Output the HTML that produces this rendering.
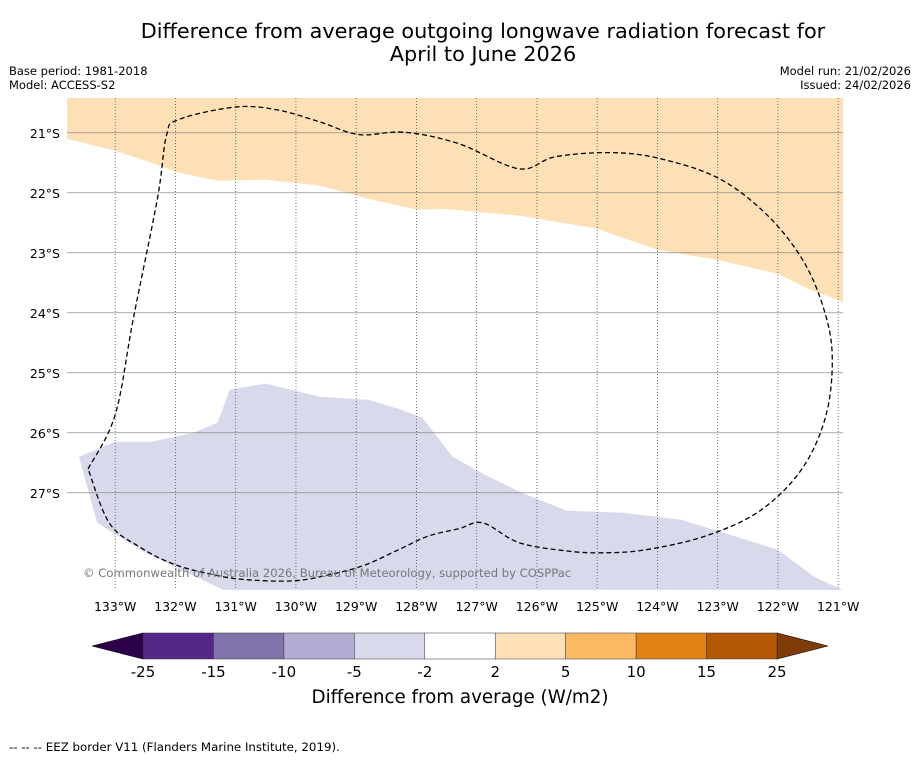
<!DOCTYPE html>
<html><head><meta charset="utf-8"><style>
body{margin:0;background:#fff;font-family:"DejaVu Sans","Liberation Sans",sans-serif;}
svg text{font-family:"DejaVu Sans","Liberation Sans",sans-serif;}
</style></head><body>
<svg id="c" width="919" height="758" viewBox="0 0 919 758">
<text x="483" y="38" text-anchor="middle" font-size="20.8">Difference from average outgoing longwave radiation forecast for</text>
<text x="483" y="61" text-anchor="middle" font-size="20.8">April to June 2026</text>
<text x="9" y="75" font-size="11.5">Base period: 1981-2018</text>
<text x="9" y="89" font-size="11.5">Model: ACCESS-S2</text>
<text x="911" y="75" font-size="11.5" text-anchor="end">Model run: 21/02/2026</text>
<text x="911" y="89" font-size="11.5" text-anchor="end">Issued: 24/02/2026</text>
<g id="map"></g>
<g id="cbar"></g>
<text x="460" y="703" text-anchor="middle" font-size="18.3">Difference from average (W/m2)</text>
<text x="9" y="751" font-size="11.8">--  --  -- EEZ border V11 (Flanders Marine Institute, 2019).</text>
</svg>
<script>
const lonTicks=[133,132,131,130,129,128,127,126,125,124,123,122,121];
const latTicks=[21,22,23,24,25,26,27];
const posRegion=[[133.8,20.42],[133.8,21.1],[133,21.3],[132.4,21.5],[132,21.65],[131.3,21.8],[130.5,21.78],[129.6,21.88],[128.8,22.1],[128,22.28],[127.5,22.27],[126.3,22.38],[125,22.6],[124,22.95],[123,23.12],[122,23.35],[121.5,23.6],[120.92,23.82],[120.92,20.42]];
const negRegion=[[133.6,26.4],[133,26.15],[132.4,26.15],[131.7,26.0],[131.3,25.83],[131.1,25.28],[130.5,25.18],[129.6,25.4],[128.8,25.45],[128.3,25.6],[127.9,25.75],[127.4,26.4],[126.9,26.68],[126.3,26.98],[125.5,27.3],[124.6,27.33],[124,27.4],[123.6,27.45],[122.8,27.7],[122,27.95],[121.4,28.4],[120.92,28.62],[131.2,28.62],[132.5,28.0],[133.3,27.5]];
const eez=[[133.45,26.6],[133.0,25.7],[132.7,24.1],[132.3,22.1],[132.15,21.05],[131.95,20.78],[131.0,20.57],[130.3,20.62],[129.6,20.82],[128.95,21.03],[128.2,20.99],[127.3,21.18],[126.3,21.6],[125.7,21.4],[124.8,21.33],[124,21.42],[123,21.75],[122.2,22.35],[121.6,23.1],[121.25,23.9],[121.1,24.7],[121.2,25.7],[121.6,26.6],[122.3,27.3],[123.2,27.72],[124.2,27.95],[124.9,28.0],[125.5,27.97],[126.3,27.83],[126.9,27.5],[127.3,27.6],[127.8,27.72],[128.3,27.95],[128.9,28.22],[129.6,28.4],[130.1,28.47],[130.8,28.45],[131.3,28.38],[132,28.2],[132.6,27.9],[133.1,27.5],[133.45,26.6]];
const cbLevels=[-25,-15,-10,-5,-2,2,5,10,15,25];
const cbColors=["#542788","#8073ac","#b2abd2","#d8daeb","#ffffff","#fee0b6","#fdb863","#e08214","#b35806"];
const NS="http://www.w3.org/2000/svg";
const L0=67,L1=843,T0=98,T1=590,lonL=133.8,lonR=120.92,latT=20.42,latB=28.62;
const X=l=>L0+(lonL-l)/(lonL-lonR)*(L1-L0);
const Y=t=>T0+(t-latT)/(latB-latT)*(T1-T0);
function mk(tag,attrs,parent){const e=document.createElementNS(NS,tag);for(const k in attrs)e.setAttribute(k,attrs[k]);parent.appendChild(e);return e;}
const map=document.getElementById('map');
const pts=a=>a.map(p=>X(p[0]).toFixed(1)+','+Y(p[1]).toFixed(1)).join(' ');
function smooth(a){const p=a.map(q=>[X(q[0]),Y(q[1])]);let d='M'+p[0][0]+','+p[0][1];
 for(let i=0;i<p.length-1;i++){const p0=p[Math.max(0,i-1)],p1=p[i],p2=p[i+1],p3=p[Math.min(p.length-1,i+2)];
 const c1=[p1[0]+(p2[0]-p0[0])/6,p1[1]+(p2[1]-p0[1])/6],c2=[p2[0]-(p3[0]-p1[0])/6,p2[1]-(p3[1]-p1[1])/6];
 d+=` C${c1[0].toFixed(1)},${c1[1].toFixed(1)} ${c2[0].toFixed(1)},${c2[1].toFixed(1)} ${p2[0].toFixed(1)},${p2[1].toFixed(1)}`;}return d;}
let e=mk('clipPath',{id:'clip'},map);mk('rect',{x:L0,y:T0,width:L1-L0,height:T1-T0},e);
e=mk('polygon',{points:pts(posRegion),fill:'#fee0b6','clip-path':'url(#clip)'},map);


e=mk('polygon',{points:pts(negRegion),fill:'#d8daeb','clip-path':'url(#clip)'},map);


lonTicks.forEach(l=>{
 e=mk('line',{x1:X(l),x2:X(l),y1:T0,y2:T1,stroke:'#555','stroke-width':0.8,'stroke-dasharray':'1,2'},map);
 
 
 e=mk('text',{x:X(l),y:611,'text-anchor':'middle','font-size':12.5},map);e.textContent=l+'°W';
 
 
});
latTicks.forEach(t=>{
 e=mk('line',{x1:L0,x2:L1,y1:Y(t),y2:Y(t),stroke:'#777','stroke-width':0.6},map);
 
 
 e=mk('text',{x:60,y:Y(t)+5,'text-anchor':'end','font-size':12.5},map);e.textContent=t+'°S';
 
 
});
e=mk('path',{d:smooth(eez),fill:'none',stroke:'#000','stroke-width':1.3,'stroke-dasharray':'5,3'},map);


e=mk('text',{x:83,y:577,'font-size':11.6,fill:'#777'},map);e.textContent='© Commonwealth of Australia 2026, Bureau of Meteorology, supported by COSPPac';


const cb=document.getElementById('cbar');
const C0=143,C1=777,cy0=633,cy1=659;
const CX=i=>C0+i*(C1-C0)/(cbLevels.length-1);
e=mk('polygon',{points:`${C0},${cy0} ${C0},${cy1} 92,646`,fill:'#2d004b',stroke:'#000','stroke-width':0.6},cb);


e=mk('polygon',{points:`${C1},${cy0} ${C1},${cy1} 828,646`,fill:'#7f3b08',stroke:'#000','stroke-width':0.6},cb);


cbColors.forEach((c,i)=>{
 e=mk('rect',{x:CX(i),y:cy0,width:CX(i+1)-CX(i),height:cy1-cy0,fill:c,stroke:'#333','stroke-width':0.5},cb);
 
 
});
cbLevels.forEach((v,i)=>{
 e=mk('text',{x:CX(i),y:677,'text-anchor':'middle','font-size':15},cb);e.textContent=v;
 
 
});
</script>
</body></html>
